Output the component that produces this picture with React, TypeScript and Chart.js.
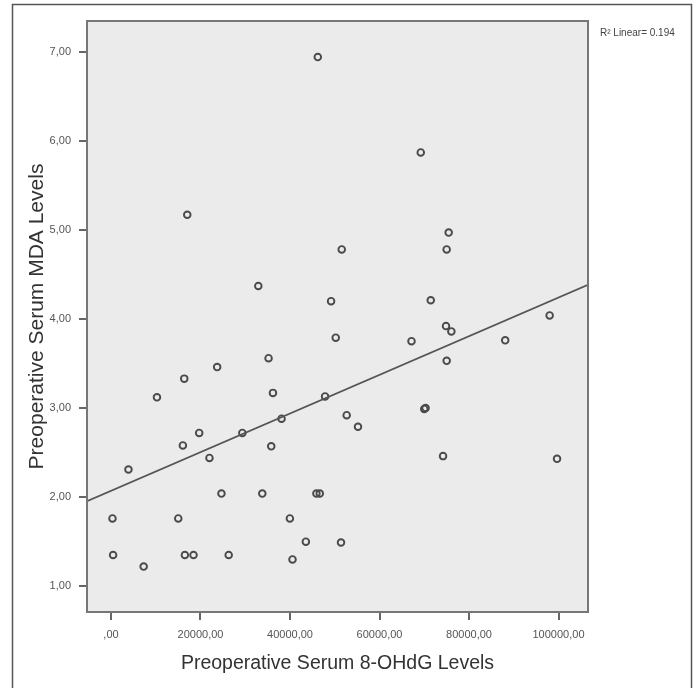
import React, { useEffect, useRef } from "react";
import { Chart, registerables } from "chart.js";

Chart.register(...registerables);

// Preoperative Serum 8-OHdG levels (x) and MDA levels (y)
const ohdgValues = [
  46210, 17040, 32920, 49180, 69220, 75460, 75010, 51560, 71450, 98020,
  50220, 35210, 23720, 16370, 10270, 36190, 47840, 38110, 29350, 19710,
  16060, 35810, 22000, 3900, 24680, 33810, 45900, 46650, 330, 15030,
  39970, 43540, 51400, 470, 16510, 18440, 26300, 7300, 40560, 67150,
  74860, 76060, 88090, 75010, 52670, 55190, 70000, 70300, 74200, 99670,
];
const mdaValues = [
  6.94, 5.17, 4.37, 4.2, 5.87, 4.97, 4.78, 4.78, 4.21, 4.04,
  3.79, 3.56, 3.46, 3.33, 3.12, 3.17, 3.13, 2.88, 2.72, 2.72,
  2.58, 2.57, 2.44, 2.31, 2.04, 2.04, 2.04, 2.04, 1.76, 1.76,
  1.76, 1.5, 1.49, 1.35, 1.35, 1.35, 1.35, 1.22, 1.3, 3.75,
  3.92, 3.86, 3.76, 3.53, 2.92, 2.79, 2.99, 3.0, 2.46, 2.43,
];

// Fit line (R² Linear = 0.194)
const fitIntercept = 2.07;
const fitSlope = 0.0000217;
const r2Label = "R² Linear= 0.194";

const xTicks = [0, 20000, 40000, 60000, 80000, 100000];
const xTickLabels = [",00", "20000,00", "40000,00", "60000,00", "80000,00", "100000,00"];
const yTicks = [1, 2, 3, 4, 5, 6, 7];
const yTickLabels = ["1,00", "2,00", "3,00", "4,00", "5,00", "6,00", "7,00"];

const xTitle = "Preoperative Serum 8-OHdG Levels";
const yTitle = "Preoperative Serum MDA Levels";

const X_MIN = -5363;
const X_MAX = 106592;
const Y_MIN = 0.71;
const Y_MAX = 7.345;

const FONT = "'Liberation Sans', Arial, Helvetica, sans-serif";

export default function App() {
  const ref = useRef<HTMLCanvasElement | null>(null);

  useEffect(() => {
    if (!ref.current) return;
    const points = ohdgValues.map((x, i) => ({ x, y: mdaValues[i] }));
    const fitLine = [
      { x: X_MIN, y: fitIntercept + fitSlope * X_MIN },
      { x: X_MAX, y: fitIntercept + fitSlope * X_MAX },
    ];

    const decor = {
      id: "decor",
      beforeDraw(chart: any) {
        const { ctx, chartArea: a } = chart;
        ctx.save();
        ctx.fillStyle = "#ffffff";
        ctx.fillRect(0, 0, chart.width, chart.height);
        ctx.strokeStyle = "#555555";
        ctx.lineWidth = 1.5;
        ctx.strokeRect(12.5, 4.5, 679, 700);
        ctx.fillStyle = "#ebebeb";
        ctx.fillRect(a.left, a.top, a.right - a.left, a.bottom - a.top);
        ctx.restore();
      },
      afterDraw(chart: any) {
        const { ctx, chartArea: a } = chart;
        ctx.save();
        ctx.strokeStyle = "#777777";
        ctx.lineWidth = 2;
        ctx.strokeRect(a.left, a.top, a.right - a.left, a.bottom - a.top);
        ctx.fillStyle = "#444444";
        ctx.font = `10px ${FONT}`;
        ctx.textAlign = "left";
        ctx.textBaseline = "middle";
        ctx.fillText(r2Label, 600, 33);
        ctx.restore();
      },
    };

    const chart = new Chart(ref.current, {
      type: "scatter",
      data: {
        datasets: [
          {
            type: "line",
            data: fitLine,
            borderColor: "#555555",
            borderWidth: 1.7,
            pointRadius: 0,
            fill: false,
          } as any,
          {
            type: "scatter",
            data: points,
            pointStyle: "circle",
            pointRadius: 3.3,
            pointBorderWidth: 1.9,
            pointBorderColor: "#4a4a4a",
            pointBackgroundColor: "rgba(0,0,0,0)",
          } as any,
        ],
      },
      options: {
        responsive: false,
        animation: false,
        layout: { padding: { top: 21, right: 108, left: 0, bottom: 0 } },
        plugins: {
          legend: { display: false },
          tooltip: { enabled: false },
        },
        scales: {
          x: {
            type: "linear",
            min: X_MIN,
            max: X_MAX,
            afterBuildTicks: (s: any) => {
              s.ticks = xTicks.map((v) => ({ value: v }));
            },
            afterFit: (s: any) => {
              s.height = 76;
            },
            ticks: {
              callback: (_v: any, i: number) => xTickLabels[i],
              font: { family: FONT, size: 11 },
              color: "#555555",
              padding: 8,
              maxRotation: 0,
              autoSkip: false,
            },
            grid: {
              drawOnChartArea: false,
              drawTicks: true,
              tickLength: 8,
              color: "#666666",
              lineWidth: 2,
            },
            border: { display: false },
            title: {
              display: true,
              text: xTitle,
              font: { family: FONT, size: 19.5 },
              color: "#333333",
              padding: { top: 0, bottom: 13 },
            },
          },
          y: {
            type: "linear",
            min: Y_MIN,
            max: Y_MAX,
            afterBuildTicks: (s: any) => {
              s.ticks = yTicks.map((v) => ({ value: v }));
            },
            afterFit: (s: any) => {
              s.width = 87;
            },
            ticks: {
              callback: (_v: any, i: number) => yTickLabels[i],
              font: { family: FONT, size: 11 },
              color: "#555555",
              padding: 8,
              autoSkip: false,
            },
            grid: {
              drawOnChartArea: false,
              drawTicks: true,
              tickLength: 8,
              color: "#666666",
              lineWidth: 2,
            },
            border: { display: false },
            title: {
              display: true,
              text: yTitle,
              font: { family: FONT, size: 21 },
              color: "#333333",
              padding: { top: 25, bottom: 0 },
            },
          },
        },
      },
      plugins: [decor],
    });
    return () => chart.destroy();
  }, []);

  return (
    <div style={{ position: "fixed", left: 0, top: 0, width: 696, height: 688 }}>
      <canvas ref={ref} width={696} height={688} style={{ display: "block" }} />
    </div>
  );
}
